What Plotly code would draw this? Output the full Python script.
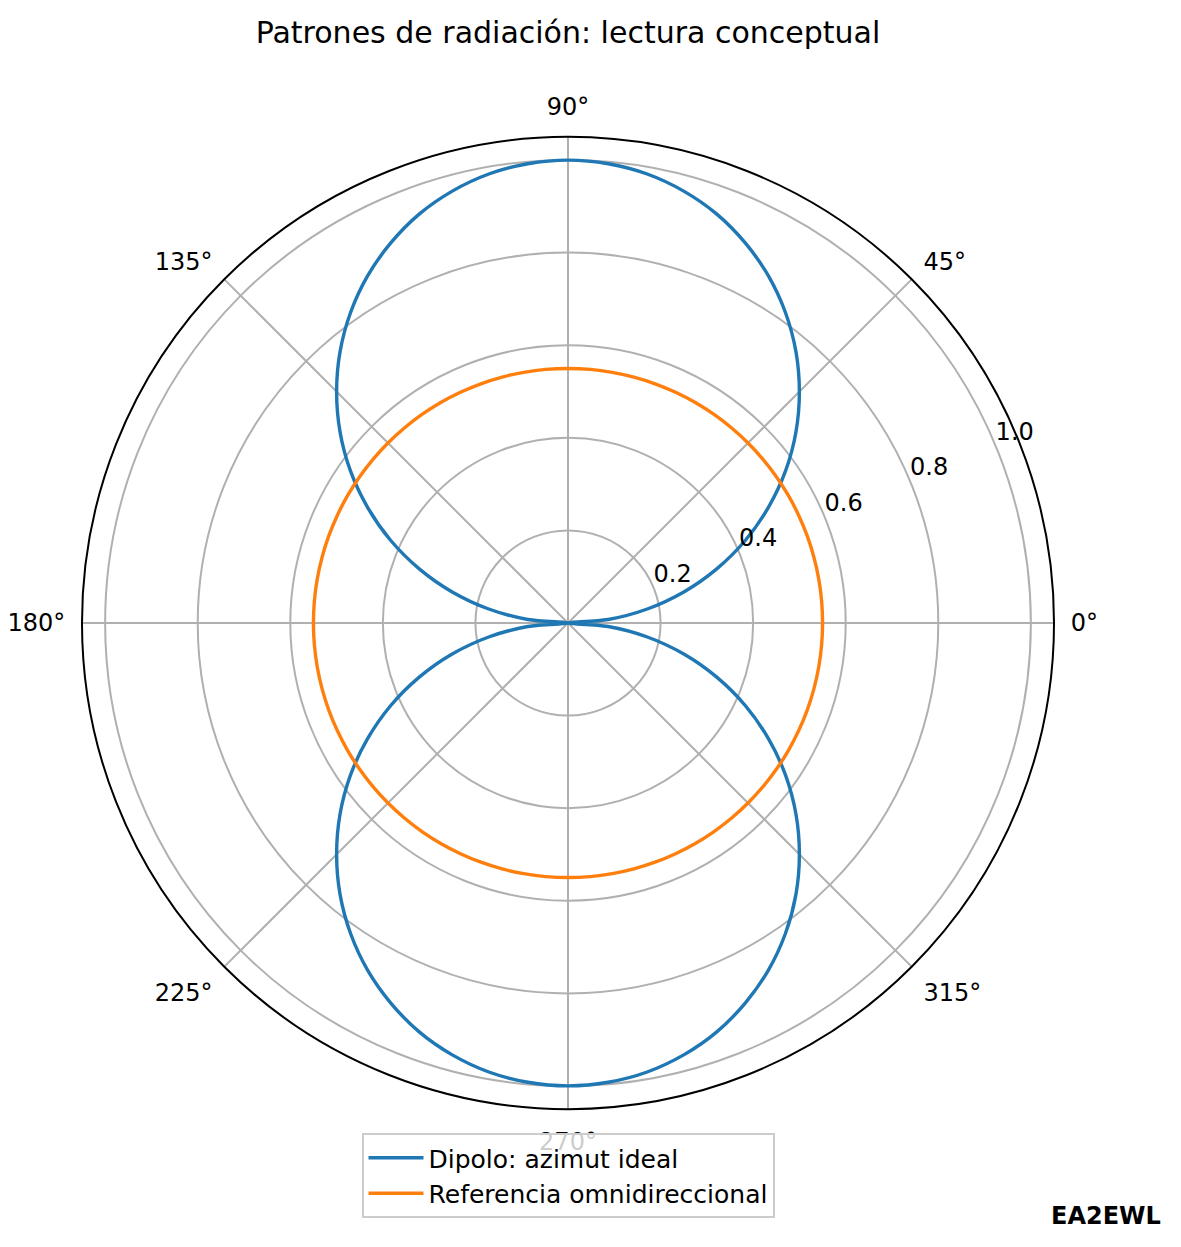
import plotly.graph_objects as go

# angles in degrees, every 5 deg
theta_deg = list(range(0, 365, 5))

# dipole azimuth pattern
lobulo = [0.0, 0.087, 0.174, 0.259, 0.342, 0.423, 0.500, 0.574, 0.643, 0.707, 0.766, 0.819, 0.866, 0.906,
          0.940, 0.966, 0.985, 0.996, 1.0, 0.996, 0.985, 0.966, 0.940, 0.906, 0.866, 0.819, 0.766, 0.707,
          0.643, 0.574, 0.500, 0.423, 0.342, 0.259, 0.174, 0.087]
dipolo_r = lobulo + lobulo + [0.0]

# omnidirectional reference
omni_r = [0.55] * len(theta_deg)

r_ticks = [0.2, 0.4, 0.6, 0.8, 1.0]
r_ticktext = ["0.2", "0.4", "0.6", "0.8", "1.0"]
r_label_angle = 22.5
ang_ticks = [0, 45, 90, 135, 180, 225, 270, 315]
ang_ticktext = ["0°", "45°", "90°", "135°", "180°", "225°", "270°", "315°"]

W, H = 1181, 1247
OFF = 8  # page body margin
font = "DejaVu Sans"


def fx(px):
    return (px - OFF) / W


def fy(py):
    return 1 - (py - OFF) / H


fig = go.Figure()
fig.add_trace(go.Scatterpolar(r=dipolo_r, theta=theta_deg, mode="lines", name="Dipolo: azimut ideal",
                              line=dict(color="#1f77b4", width=3.4, shape="spline")))
fig.add_trace(go.Scatterpolar(r=omni_r, theta=theta_deg, mode="lines", name="Referencia omnidireccional",
                              line=dict(color="#ff7f0e", width=3.4, shape="spline")))
# radial tick labels, matplotlib style (at 22.5 deg)
fig.add_trace(go.Scatterpolar(r=r_ticks, theta=[r_label_angle] * len(r_ticks), mode="text",
                              text=r_ticktext, textposition="top right", showlegend=False,
                              hoverinfo="skip", textfont=dict(size=24, color="black", family=font)))

fig.update_layout(
    width=W, height=H,
    margin=dict(l=0, r=0, t=0, b=0),
    paper_bgcolor="white",
    font=dict(family=font, size=24, color="black"),
    title=dict(text="Patrones de radiación: lectura conceptual", x=fx(568), xanchor="center",
               y=fy(32), yanchor="middle", font=dict(size=30, family=font)),
    polar=dict(
        domain=dict(x=[fx(82), fx(1054)], y=[fy(1109), fy(137)]),
        bgcolor="white",
        radialaxis=dict(range=[0, 1.05], tickvals=r_ticks, showticklabels=False, showline=False,
                        ticks="", gridcolor="#b0b0b0", gridwidth=1.8),
        angularaxis=dict(direction="counterclockwise", rotation=0, tickvals=ang_ticks,
                         ticktext=ang_ticktext, showline=True, linecolor="black", linewidth=2,
                         gridcolor="#b0b0b0", gridwidth=1.8, ticks="outside", ticklen=11,
                         tickcolor="rgba(0,0,0,0)", tickfont=dict(size=24)),
    ),
    legend=dict(x=fx(568), xanchor="center", y=fy(1133), yanchor="top",
                bgcolor="rgba(255,255,255,0.8)", bordercolor="#cccccc", borderwidth=2,
                font=dict(size=25), itemwidth=55),
    showlegend=True,
)

fig.add_annotation(text="<b>EA2EWL</b>", x=fx(1163), y=fy(1216), xref="paper", yref="paper",
                   xanchor="right", yanchor="middle", showarrow=False, font=dict(size=24, family=font))

fig.write_html("out.html")
